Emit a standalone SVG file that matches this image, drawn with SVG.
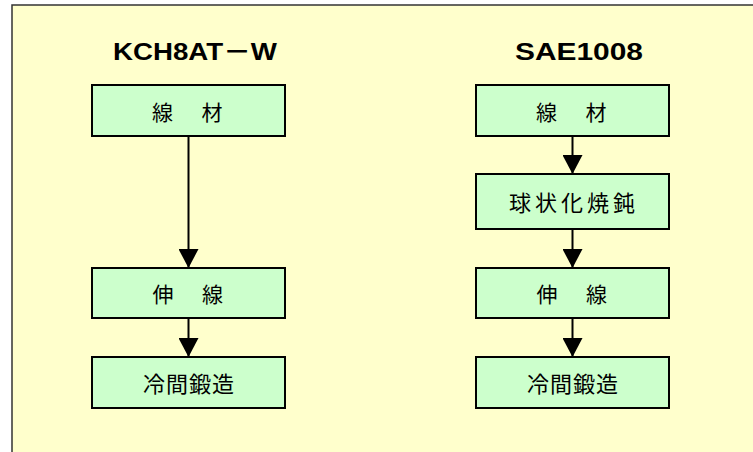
<svg xmlns="http://www.w3.org/2000/svg" width="753" height="452" viewBox="0 0 753 452">
<style>
.box{fill:#CCFFCC;stroke:#000;stroke-width:2}
.lbl{font-family:"Noto Sans CJK JP","Noto Sans CJK SC",sans-serif;font-size:21px;fill:#000;text-anchor:middle}
.ttl{font-family:"Liberation Sans","Noto Sans CJK JP",sans-serif;font-size:23.5px;font-weight:bold;fill:#000;text-anchor:middle}
.conn{stroke:#000;stroke-width:2;fill:none;marker-end:url(#ah)}
</style>
<defs>
<marker id="ah" markerUnits="userSpaceOnUse" markerWidth="20" markerHeight="20" refX="19" refY="10" orient="auto" viewBox="0 0 20 20">
<path d="M0,0 L19,10 L0,20 z" fill="#000"/>
</marker>
</defs>
<rect x="0" y="0" width="753" height="452" fill="#fff"/>
<rect id="frame" x="12" y="5" width="760" height="460" fill="#FFFFCC" stroke="#333" stroke-width="1.5"/>
<g id="title-left"><text class="ttl" x="195" y="60" textLength="164" lengthAdjust="spacingAndGlyphs">KCH8AT－W</text></g>
<g id="title-right"><text class="ttl" x="579" y="60" textLength="128" lengthAdjust="spacingAndGlyphs">SAE1008</text></g>
<g id="connectors">
<line class="conn" x1="188.5" y1="136" x2="188.5" y2="268"/>
<line class="conn" x1="188.5" y1="318" x2="188.5" y2="357"/>
<line class="conn" x1="572.5" y1="136" x2="572.5" y2="174"/>
<line class="conn" x1="572.5" y1="229" x2="572.5" y2="268"/>
<line class="conn" x1="572.5" y1="318" x2="572.5" y2="357"/>
</g>
<g id="L1"><rect class="box" x="92" y="85" width="193" height="51"/><text class="lbl" x="162.5 187.5 212" y="119.5">線　材</text></g>
<g id="L2"><rect class="box" x="92" y="268" width="193" height="50"/><text class="lbl" x="163 187.5 212.5" y="302">伸　線</text></g>
<g id="L3"><rect class="box" x="92" y="357" width="193" height="51"/><text class="lbl" x="189" y="391.5" style="font-size:22px;letter-spacing:1px">冷間鍛造</text></g>
<g id="R1"><rect class="box" x="476" y="85" width="193" height="51"/><text class="lbl" x="546.5 571.5 596" y="119.5">線　材</text></g>
<g id="R2"><rect class="box" x="476" y="174" width="193" height="55"/><text class="lbl" x="574" y="211" style="font-size:22px;letter-spacing:4px">球状化焼鈍</text></g>
<g id="R3"><rect class="box" x="476" y="268" width="193" height="50"/><text class="lbl" x="547 571.5 596.5" y="302">伸　線</text></g>
<g id="R4"><rect class="box" x="476" y="357" width="193" height="51"/><text class="lbl" x="573" y="391.5" style="font-size:22px;letter-spacing:1px">冷間鍛造</text></g>
</svg>
